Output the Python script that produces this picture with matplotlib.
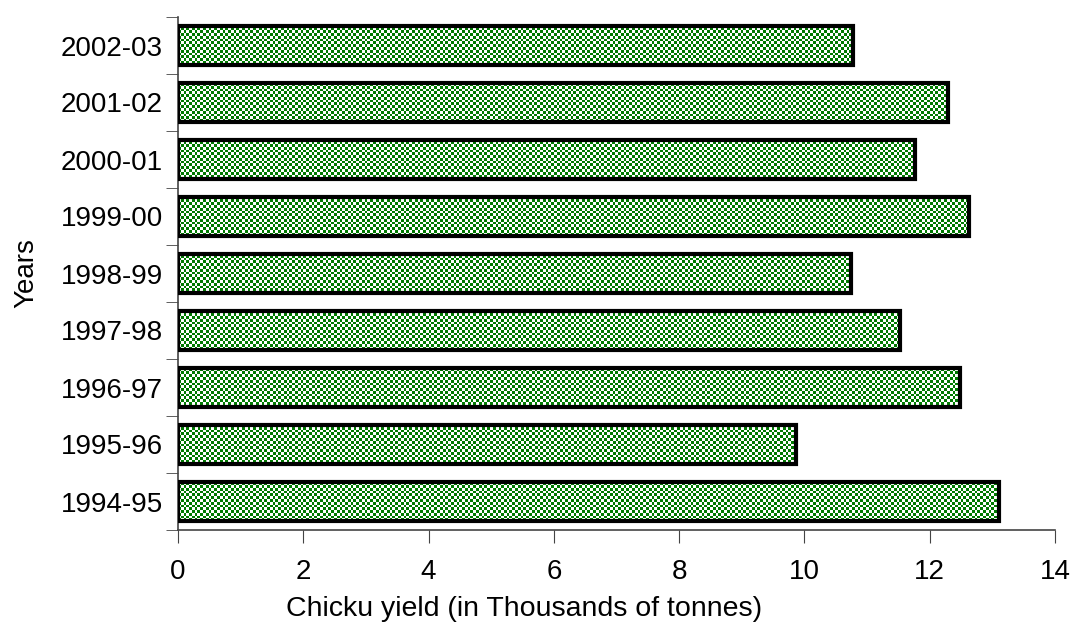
import matplotlib
matplotlib.use('Agg')
from matplotlib import pyplot as plt
import numpy as np

plt.rcParams['font.family'] = ['Liberation Sans', 'DejaVu Sans']

years = ['1994-95', '1995-96', '1996-97', '1997-98', '1998-99',
         '1999-00', '2000-01', '2001-02', '2002-03']
yields = [13.10, 9.87, 12.49, 11.52, 10.74, 12.62, 11.76, 12.29, 10.77]

fig = plt.figure(figsize=(10.71, 6.24), dpi=100)
ax = fig.add_axes([178 / 1071, 1 - 530 / 624, (1055 - 178) / 1071, (530 - 17) / 624])

pos = np.arange(len(years))
bars = ax.barh(pos, yields, height=0.7, facecolor='none', edgecolor='black',
               linewidth=3, zorder=3)

# green / white checker texture, clipped to each bar
ny, nx = 185, 315
checker = (np.add.outer(np.arange(ny), np.arange(nx)) % 2).astype(float)
cmap = matplotlib.colors.ListedColormap(['white', '#007a00'])
for b in bars:
    im = ax.imshow(checker, cmap=cmap, interpolation='nearest', aspect='auto',
                   extent=[0, 14, -0.5, len(years) - 0.5], zorder=2)
    im.set_clip_path(b)

ax.set_xlim(0, 14)
ax.set_ylim(-0.5, len(years) - 0.5)
ax.set_xticks(range(0, 15, 2))
ax.set_yticks(pos)
ax.set_yticklabels(years)
ax.set_yticks(np.arange(-0.5, len(years), 1), minor=True)
ax.tick_params(axis='y', which='major', length=0, pad=11, labelsize=20)
ax.tick_params(axis='y', which='minor', length=9, color='#444444')
ax.tick_params(axis='x', length=9, color='#444444', pad=12, labelsize=20)

for s in ['top', 'right']:
    ax.spines[s].set_visible(False)
for s in ['left', 'bottom']:
    ax.spines[s].set_color('#444444')
    ax.spines[s].set_linewidth(1.2)

ax.set_xlabel('Chicku yield (in Thousands of tonnes)', fontsize=20.5,
              labelpad=8, x=0.395)
ax.set_ylabel('Years', fontsize=20, labelpad=15)

fig.savefig('out.png', dpi=100)
